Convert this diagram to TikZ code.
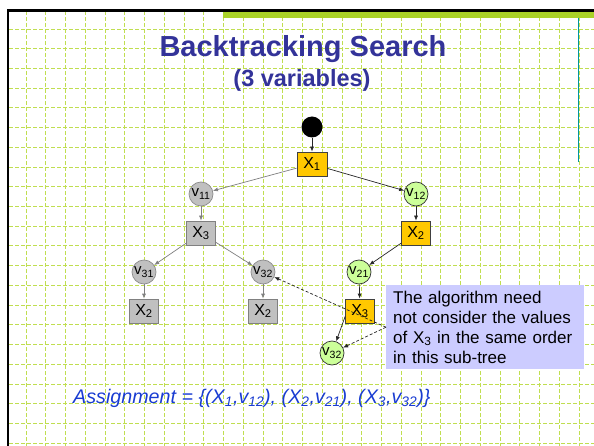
\documentclass[tikz,border=0pt]{standalone}
\usepackage{fontspec}
\setmainfont{Liberation Sans}
\usetikzlibrary{arrows.meta,calc}
\definecolor{gridg}{RGB}{192,222,80}
\definecolor{bandg}{RGB}{170,210,40}
\definecolor{teal1}{RGB}{0,150,160}
\definecolor{titleblue}{RGB}{51,51,153}
\definecolor{asgblue}{RGB}{25,60,210}
\definecolor{varor}{RGB}{255,200,0}
\definecolor{vgray}{RGB}{192,192,192}
\definecolor{vgreen}{RGB}{204,255,153}
\definecolor{calloutc}{RGB}{204,204,255}
\begin{document}
\begin{tikzpicture}[x=1pt,y=-1pt,
  varbox/.style={rectangle, draw=black!75, fill=varor, minimum width=29pt, minimum height=24pt, inner sep=0pt, font=\fontsize{16}{16}\selectfont, line width=0.7pt},
  gvarbox/.style={varbox, draw=black!50, fill=vgray},
  valc/.style={circle, draw=black!80, fill=vgreen, minimum size=24pt, inner sep=0pt, font=\fontsize{15}{15}\selectfont, line width=0.7pt},
  gvalc/.style={valc, draw=black!45, fill=vgray},
  arr/.style={-{Latex[length=5pt,width=4pt]}, line width=0.7pt, draw=black!85},
  garr/.style={arr, draw=black!50},
  darr/.style={arr, dash pattern=on 3pt off 2pt},
  gridline/.style={draw=gridg, line width=0.9pt, dash pattern=on 4pt off 2pt},
]
\useasboundingbox (0,0) rectangle (594,446);
\fill[white] (0,0) rectangle (594,446);
% grid
\foreach \k in {0,...,28} \draw[gridline] ({26+19.75*\k},11) -- ({26+19.75*\k},446);
\foreach \k in {0,...,21} \draw[gridline] (9,{29+19.72*\k}) -- (594,{29+19.72*\k});
% frame
\fill[bandg] (223,11) rectangle (594,18.5);
\draw[line width=2.4pt] (7,10.5) -- (594,10.5);
\draw[line width=2.2pt] (8,9.3) -- (8,446);
\draw[teal1, line width=1.2pt] (578.5,18) -- (578.5,162);
% titles
\node[anchor=base, inner sep=0pt, font=\fontsize{29}{29}\selectfont\bfseries, text=titleblue] (title) at (303,57) {Backtracking Search};
\node[anchor=base, inner sep=0pt, font=\fontsize{23.5}{23.5}\selectfont\bfseries, text=titleblue] (subtitle) at (302,86.5) {(3 variables)};
% tree
\node[circle, fill=black, minimum size=21pt, inner sep=0pt] (root) at (312,127) {};
\node[varbox, minimum width=30pt] (X1) at (312,164) {X\textsubscript{1}};
\node[gvalc] (v11) at (201,194) {v\textsubscript{11}};
\node[valc] (v12) at (416,194) {v\textsubscript{12}};
\node[gvarbox] (X3g) at (201,233) {X\textsubscript{3}};
\node[varbox] (X2o) at (416,233) {X\textsubscript{2}};
\node[gvalc] (v31) at (144,272) {v\textsubscript{31}};
\node[gvalc] (v32g) at (263,272) {v\textsubscript{32}};
\node[valc] (v21) at (359,272) {v\textsubscript{21}};
\node[gvarbox] (X2a) at (144,311) {X\textsubscript{2}};
\node[gvarbox] (X2b) at (263,311) {X\textsubscript{2}};
\node[varbox] (X3o) at (360,311) {X\textsubscript{3}};
\node[valc] (v32o) at (332,353) {v\textsubscript{32}};
\draw[arr] (root) -- (X1);
\draw[garr] (X1) -- (v11);
\draw[arr] (X1) -- (v12);
\draw[garr] (v11) -- (X3g);
\draw[garr] (X3g) -- (v31);
\draw[garr] (X3g) -- (v32g);
\draw[garr] (v31) -- (X2a);
\draw[garr] (v32g) -- (X2b);
\draw[arr] (v12) -- (X2o);
\draw[arr] (X2o) -- (v21);
\draw[arr] (v21) -- (X3o);
\draw[arr] (X3o.200) -- (v32o);
% callout
\node[fill=calloutc, minimum width=198pt, minimum height=84pt, text width=184pt, inner xsep=7pt, inner ysep=0pt, align=left, font=\fontsize{17}{20}\selectfont, anchor=north west] (note) at (386,285) {The algorithm need\\not consider the values\\of X\textsubscript{3} in the same order\\in this sub-tree};
\coordinate (cs) at (note.west);
\draw[darr] (cs) -- (v32g);
\draw[darr] (cs) -- (v32o);
% assignment
\node[anchor=base west, inner sep=0pt, font=\fontsize{19.7}{19.7}\selectfont\itshape, text=asgblue] (asg) at (73,403) {Assignment = \{(X\textsubscript{1},v\textsubscript{12}), (X\textsubscript{2},v\textsubscript{21}), (X\textsubscript{3},v\textsubscript{32})\}};
\end{tikzpicture}
\end{document}
